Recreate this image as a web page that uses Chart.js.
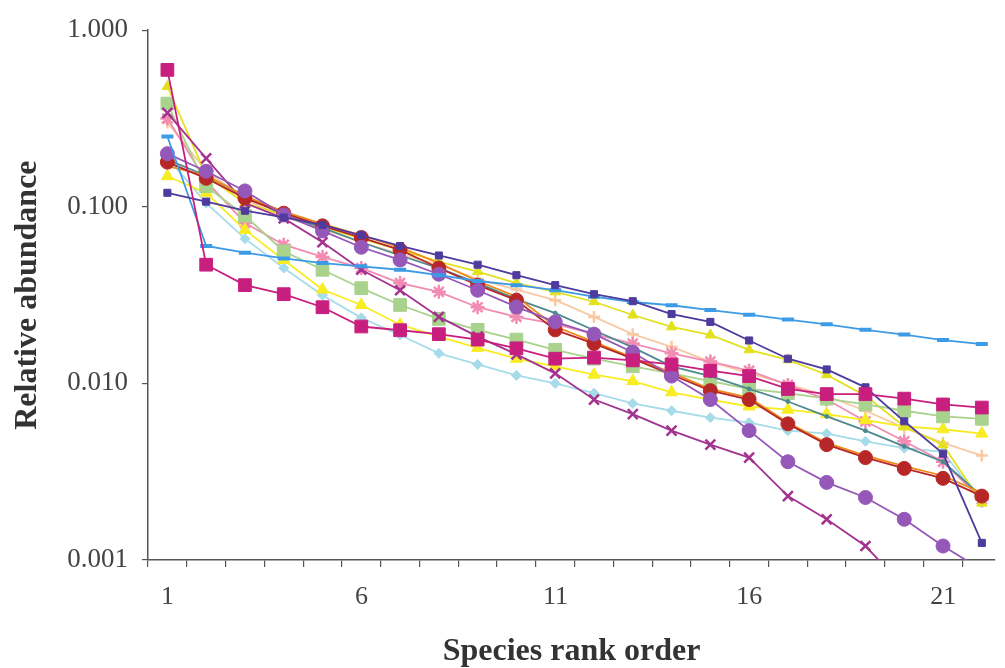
<!DOCTYPE html>
<html>
<head>
<meta charset="utf-8">
<script src="https://cdn.jsdelivr.net/npm/chart.js@4"></script>
<style>
  html, body { margin: 0; padding: 0; background: #ffffff; }
  #wrap { width: 1005px; height: 668px; }
</style>
</head>
<body>
<div id="wrap"><canvas id="rankChart" width="1005" height="668"></canvas></div>
<script>
// species rank (x) and relative abundance of each community (log y)
var ranks = [1, 2, 3, 4, 5, 6, 7, 8, 9, 10, 11, 12, 13, 14, 15, 16, 17, 18, 19, 20, 21, 22];
var xTickLabels = [1, 6, 11, 16, 21];
var yTickValues = [0.001, 0.01, 0.1, 1];

var magentaSquares = [0.596, 0.047, 0.036, 0.032, 0.027, 0.021, 0.020, 0.019, 0.0177, 0.0158, 0.0138, 0.014, 0.0135, 0.0128, 0.0118, 0.011, 0.0093, 0.0087, 0.0087, 0.0082, 0.0076, 0.0073];
var skyBlueDashes = [0.25, 0.060, 0.055, 0.051, 0.048, 0.046, 0.044, 0.041, 0.038, 0.036, 0.0337, 0.031, 0.0289, 0.0277, 0.026, 0.0245, 0.023, 0.0216, 0.0201, 0.0189, 0.0176, 0.0167];
var navySquares = [0.12, 0.107, 0.095, 0.087, 0.079, 0.069, 0.060, 0.053, 0.047, 0.041, 0.036, 0.032, 0.0292, 0.0247, 0.0223, 0.0175, 0.0138, 0.012, 0.0095, 0.0061, 0.0040, 0.00125];
var purpleCircles = [0.20, 0.159, 0.123, 0.090, 0.073, 0.059, 0.050, 0.0415, 0.0337, 0.0271, 0.0223, 0.019, 0.015, 0.011, 0.0081, 0.0054, 0.0036, 0.00275, 0.00226, 0.0017, 0.0012, 0.00088];
var redCircles = [0.179, 0.145, 0.112, 0.092, 0.078, 0.067, 0.057, 0.045, 0.036, 0.0296, 0.0201, 0.0168, 0.0138, 0.0112, 0.0091, 0.0081, 0.0059, 0.0045, 0.0038, 0.0033, 0.0029, 0.0023];
var orangeLine = [0.17, 0.15, 0.115, 0.094, 0.08, 0.069, 0.059, 0.048, 0.038, 0.031, 0.021, 0.0172, 0.014, 0.0115, 0.0093, 0.0083, 0.006, 0.0046, 0.0039, 0.0034, 0.003, 0.0024];
var tealLine = [0.185, 0.15, 0.115, 0.09, 0.076, 0.063, 0.053, 0.045, 0.037, 0.030, 0.025, 0.020, 0.016, 0.0125, 0.011, 0.0093, 0.0079, 0.0065, 0.0054, 0.0044, 0.0036, 0.0023];
var plumCrosses = [0.34, 0.188, 0.105, 0.086, 0.063, 0.044, 0.0337, 0.0238, 0.0184, 0.0146, 0.0114, 0.0081, 0.0067, 0.0054, 0.0045, 0.0038, 0.0023, 0.0017, 0.0012, 0.0007, null, null];
var greenSquares = [0.384, 0.131, 0.089, 0.056, 0.044, 0.0346, 0.0278, 0.0232, 0.0201, 0.0177, 0.0155, 0.0138, 0.0125, 0.0114, 0.0103, 0.0093, 0.0088, 0.0082, 0.0076, 0.0070, 0.0065, 0.0063];
var yellowLow = [0.149, 0.12, 0.074, 0.050, 0.034, 0.0278, 0.0215, 0.0184, 0.0159, 0.0138, 0.0125, 0.0112, 0.0103, 0.0089, 0.0081, 0.0074, 0.0071, 0.0067, 0.0062, 0.0057, 0.0055, 0.0052];
var yellowHigh = [0.48, 0.15, 0.105, 0.09, 0.077, 0.066, 0.057, 0.049, 0.043, 0.037, 0.033, 0.029, 0.0244, 0.0209, 0.0188, 0.0155, 0.0136, 0.0112, 0.0085, 0.0057, 0.0045, 0.0021];
var pinkStars = [0.316, 0.14, 0.081, 0.061, 0.052, 0.045, 0.037, 0.033, 0.027, 0.0238, 0.0217, 0.019, 0.0168, 0.0148, 0.0133, 0.0118, 0.0098, 0.0081, 0.0061, 0.0047, 0.0036, 0.0022];
var cyanDiamonds = [0.19, 0.105, 0.066, 0.045, 0.0316, 0.0235, 0.0188, 0.0148, 0.0128, 0.0111, 0.0100, 0.0088, 0.0077, 0.0070, 0.0064, 0.0060, 0.0054, 0.0052, 0.0047, 0.0043, 0.0041, 0.0021];
var peachPlus = [0.30, 0.16, 0.11, 0.088, 0.075, 0.063, 0.054, 0.047, 0.039, 0.034, 0.0296, 0.0238, 0.019, 0.0161, 0.0133, 0.0114, 0.0099, 0.0085, 0.0070, 0.0056, 0.0046, 0.0039];

function pts(values) {
    return ranks.map(function(r, i) { return { x: r, y: values[i] }; });
}

function series(values, color, style, radius, width) {
    return {
        data: pts(values),
        borderColor: color,
        backgroundColor: color,
        pointBorderColor: color,
        pointBackgroundColor: color,
        pointStyle: style,
        pointRadius: radius,
        pointBorderWidth: width || 1,
        borderWidth: 1.8,
        tension: 0,
        spanGaps: false
    };
}

var serif = '"Liberation Serif", "DejaVu Serif", serif';

document.addEventListener('DOMContentLoaded', function() {
    var canvas = document.getElementById('rankChart');
    if (!canvas) {
        console.error('Canvas #rankChart not found!');
        return;
    }
    var ctx = canvas.getContext('2d');
    new Chart(ctx, {
        type: 'line',
        data: {
            datasets: [
                series(magentaSquares, '#c81f7f', 'rect', 9),
                series(navySquares, '#4f3b9e', 'rect', 5),
                series(skyBlueDashes, '#3d9be6', 'line', 6, 4),
                series(purpleCircles, '#9558b8', 'circle', 7),
                series(redCircles, '#b82727', 'circle', 7),
                series(orangeLine, '#ec8c1c', 'circle', 2),
                series(tealLine, '#4f8a90', 'circle', 2),
                series(plumCrosses, '#a3338f', 'crossRot', 7, 2.5),
                series(greenSquares, '#a9d28d', 'rect', 9),
                series(yellowHigh, '#e3e11e', 'triangle', 6),
                series(yellowLow, '#f8ec22', 'triangle', 7),
                series(pinkStars, '#f28cb2', 'star', 7, 2.5),
                series(cyanDiamonds, '#a6dbea', 'rectRot', 5),
                series(peachPlus, '#f8c9a2', 'cross', 6, 2.5)
            ]
        },
        options: {
            responsive: false,
            animation: false,
            layout: { padding: { top: 24, right: 0, bottom: 0, left: 0 } },
            plugins: {
                legend: { display: false },
                tooltip: { enabled: false }
            },
            scales: {
                x: {
                    type: 'linear',
                    min: 0.5,
                    max: 22.34,
                    afterBuildTicks: function(scale) {
                        var t = [];
                        for (var k = 0; k < 22; k++) t.push({ value: 0.5 + k });
                        scale.ticks = t;
                    },
                    afterFit: function(scale) { scale.height = 108; },
                    ticks: {
                        autoSkip: false,
                        maxRotation: 0,
                        minRotation: 0,
                        padding: 15,
                        labelOffset: 19.6,
                        color: '#444',
                        font: { family: serif, size: 26 },
                        callback: function(v) {
                            var r = Math.round(v + 0.5);
                            return xTickLabels.indexOf(r) >= 0 ? String(r) : '';
                        }
                    },
                    grid: {
                        drawOnChartArea: false,
                        drawTicks: true,
                        tickLength: 7,
                        color: '#555',
                        lineWidth: 1.2
                    },
                    border: { display: true, color: '#555', width: 1.5 },
                    title: {
                        display: true,
                        text: 'Species rank order',
                        color: '#333',
                        font: { family: serif, size: 32, weight: 'bold', lineHeight: 1 },
                        padding: { top: 0, bottom: 0 }
                    }
                },
                y: {
                    type: 'logarithmic',
                    min: 0.001,
                    max: 1,
                    afterBuildTicks: function(scale) {
                        scale.ticks = yTickValues.map(function(v) { return { value: v }; });
                    },
                    afterFit: function(scale) { scale.width = 148; },
                    ticks: {
                        padding: 14,
                        color: '#444',
                        font: { family: serif, size: 27 },
                        callback: function(v) { return Number(v).toFixed(3); }
                    },
                    grid: {
                        drawOnChartArea: false,
                        drawTicks: true,
                        tickLength: 6,
                        color: '#555',
                        lineWidth: 1.2
                    },
                    border: { display: true, color: '#555', width: 1.5 },
                    title: {
                        display: true,
                        text: 'Relative abundance',
                        color: '#333',
                        font: { family: serif, size: 32, weight: 'bold', lineHeight: 1 },
                        padding: { top: 12, bottom: 0 }
                    }
                }
            }
        }
    });
});
</script>
</body>
</html>
